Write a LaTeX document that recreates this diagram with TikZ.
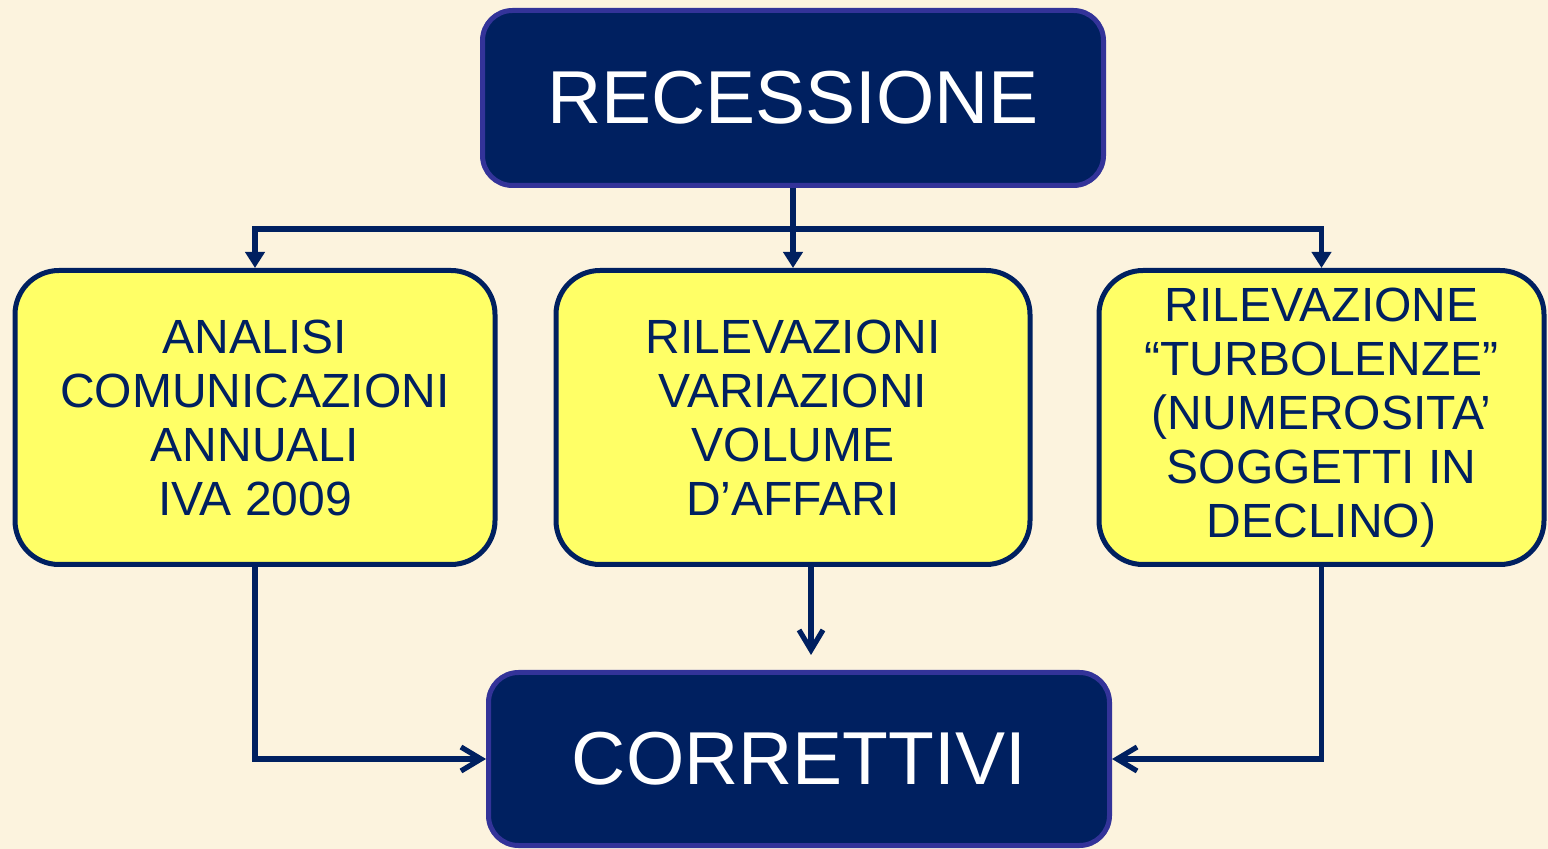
\documentclass[tikz,border=0pt]{standalone}
\usepackage{fontspec}
\setmainfont{Liberation Sans}
\usetikzlibrary{arrows.meta,positioning}
\definecolor{navy}{RGB}{0,32,96}
\definecolor{rim}{RGB}{51,51,153}
\definecolor{lemon}{RGB}{255,255,102}
\definecolor{parchment}{RGB}{252,243,222}
\tikzstyle{box}=[rectangle,inner sep=0pt,align=center,line width=2.5pt]
\tikzstyle{headline}=[box,draw=rim,fill=navy,text=white,rounded corners=15pt,minimum width=310.5pt,minimum height=87.5pt,font=\fontsize{37.5}{40}\selectfont]
\tikzstyle{measure}=[box,draw=navy,fill=lemon,text=navy,rounded corners=22pt,minimum height=147pt,font=\fontsize{24}{27}\selectfont]
\tikzstyle{branch}=[-{Triangle[length=8pt,width=9.5pt]},draw=navy,line width=2.6pt]
\tikzstyle{feeds}=[-{Straight Barb[length=10pt,width=12pt]},draw=navy,line width=2.6pt]

\begin{document}
\begin{tikzpicture}

\fill [parchment] (0,0) rectangle (774pt,-424.5pt);
\useasboundingbox (0,0) rectangle (774pt,-424.5pt);

\node (recession) [headline] at (396.5pt,-49pt) {RECESSIONE};
\node (volume) [measure,minimum width=237pt,below=40pt of recession] {RILEVAZIONI\\VARIAZIONI\\VOLUME\\D’AFFARI};
\node (annual) [measure,minimum width=240pt,left=28pt of volume] {ANALISI\\COMUNICAZIONI\\ANNUALI\\IVA 2009};
\node (turbulence) [measure,minimum width=222.5pt,right=32pt of volume] {RILEVAZIONE\\“TURBOLENZE”\\(NUMEROSITA’\\SOGGETTI IN\\DECLINO)};
\node (fixes) [headline,minimum height=86.5pt,below=51.5pt of volume,xshift=3pt] {CORRETTIVI};

\coordinate [below=20.5pt of recession.south] (split);
\draw [branch] (recession.south) -- (volume.north);
\draw [branch] (split) -| (annual.north);
\draw [branch] (split) -| (turbulence.north);

\draw [feeds] ([xshift=9pt]volume.south) -- ([xshift=6pt,yshift=7.5pt]fixes.north);
\draw [feeds] (annual.south) |- (fixes.west);
\draw [feeds] (turbulence.south) |- (fixes.east);

\end{tikzpicture}
\end{document}
